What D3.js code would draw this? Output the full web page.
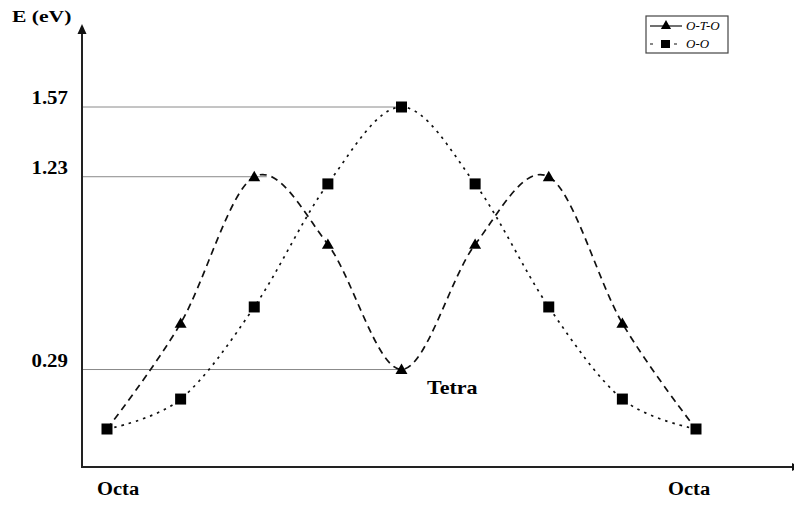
<!DOCTYPE html>
<html>
<head>
<meta charset="utf-8">
<script src="https://cdn.jsdelivr.net/npm/d3@7"></script>
<style>
  body { margin: 0; background: #fff; }
  svg text { font-family: "Liberation Serif", "Times New Roman", serif; }
</style>
</head>
<body>
<div id="chart"></div>
<script>
// Data (energy in eV along the path)
const steps = [0, 1, 2, 3, 4, 5, 6, 7, 8];
const otoValues = [0, 0.515, 1.23, 0.9, 0.29, 0.9, 1.23, 0.515, 0];
const ooValues = [0, 0.146, 0.595, 1.195, 1.57, 1.195, 0.595, 0.146, 0];
const tickValues = [1.57, 1.23, 0.29];
const tickLabels = ["1.57", "1.23", "0.29"];
const guideEnds = [4, 2.17, 4]; // where each level line stops, in steps
const seriesNames = ["O-T-O", "O-O"];

const width = 794;
const height = 505;

const svg = d3.select("#chart")
    .append("svg")
    .attr("width", width)
    .attr("height", height);

// Scales
const x = d3.scaleLinear().domain([0, 8]).range([107, 696]);
const y = d3.scaleLinear().domain([0, 1.57]).range([429, 107]);

const axisX = 82;
const axisY = 467;

// the original text looks stretched sideways
function wideText(g, tx, ty, sx) {
    return g.append("text")
        .attr("transform", `translate(${tx}, ${ty}) scale(${sx}, 1)`);
}

// Level lines to the labelled energies
svg.selectAll(".guide")
    .data(tickValues)
    .enter()
    .append("line")
    .attr("x1", axisX)
    .attr("x2", (d, i) => x(guideEnds[i]))
    .attr("y1", d => y(d))
    .attr("y2", d => y(d))
    .attr("stroke", "#8a8a8a")
    .attr("stroke-width", 1);

tickValues.forEach((v, i) => {
    wideText(svg, 68, y(v) - 3, 1.16)
        .attr("text-anchor", "end")
        .style("font-size", "18px")
        .style("font-weight", "bold")
        .text(tickLabels[i]);
});

// Axes
svg.append("line")
    .attr("x1", axisX).attr("x2", axisX)
    .attr("y1", axisY).attr("y2", 32)
    .attr("stroke", "#222").attr("stroke-width", 2);
svg.append("path")
    .attr("d", `M${axisX},24 L${axisX - 4.5},34 L${axisX + 4.5},34 Z`)
    .attr("fill", "#111");

svg.append("line")
    .attr("x1", axisX - 1).attr("x2", 792)
    .attr("y1", axisY).attr("y2", axisY)
    .attr("stroke", "#222").attr("stroke-width", 2);
svg.append("path")
    .attr("d", `M${800},${axisY} L${792},${axisY - 4} L${792},${axisY + 4} Z`)
    .attr("fill", "#111");

// Curves
const line = d3.line()
    .x((d, i) => x(steps[i]))
    .y(d => y(d))
    .curve(d3.curveCardinal.tension(0));

svg.append("path")
    .datum(otoValues)
    .attr("d", line)
    .attr("fill", "none")
    .attr("stroke", "#111")
    .attr("stroke-width", 1.7)
    .attr("stroke-dasharray", "7,5");

svg.append("path")
    .datum(ooValues)
    .attr("d", line)
    .attr("fill", "none")
    .attr("stroke", "#111")
    .attr("stroke-width", 1.7)
    .attr("stroke-dasharray", "2.5,5");

// Markers
const tri = d3.symbol().type(d3.symbolTriangle).size(62);
svg.selectAll(".tri")
    .data(otoValues.slice(1, 8))
    .enter()
    .append("path")
    .attr("d", tri)
    .attr("transform", (d, i) => `translate(${x(steps[i + 1])}, ${y(d) + 1})`)
    .attr("fill", "#000");

svg.selectAll(".sq")
    .data(ooValues)
    .enter()
    .append("rect")
    .attr("x", (d, i) => x(steps[i]) - 5.5)
    .attr("y", d => y(d) - 5.5)
    .attr("width", 11)
    .attr("height", 11)
    .attr("fill", "#000");

// Labels
wideText(svg, 12, 22, 1.27)
    .style("font-size", "17px").style("font-weight", "bold")
    .text("E (eV)");

wideText(svg, 97, 495, 1.08)
    .style("font-size", "19px").style("font-weight", "bold")
    .text("Octa");

wideText(svg, 668, 495, 1.08)
    .style("font-size", "19px").style("font-weight", "bold")
    .text("Octa");

wideText(svg, 427, 394, 1.16)
    .style("font-size", "19px").style("font-weight", "bold")
    .text("Tetra");

// Legend
const legend = svg.append("g");
legend.append("rect")
    .attr("x", 646).attr("y", 16)
    .attr("width", 82).attr("height", 37)
    .attr("fill", "#fff")
    .attr("stroke", "#444")
    .attr("stroke-width", 1.2);

legend.append("line")
    .attr("x1", 650).attr("x2", 682)
    .attr("y1", 26).attr("y2", 26)
    .attr("stroke", "#111").attr("stroke-width", 1.2);
legend.append("path")
    .attr("d", d3.symbol().type(d3.symbolTriangle).size(45))
    .attr("transform", "translate(666, 26)")
    .attr("fill", "#000");

legend.append("line")
    .attr("x1", 650).attr("x2", 682)
    .attr("y1", 44).attr("y2", 44)
    .attr("stroke", "#111").attr("stroke-width", 1.2)
    .attr("stroke-dasharray", "3,9");
legend.append("rect")
    .attr("x", 661).attr("y", 40)
    .attr("width", 9).attr("height", 8)
    .attr("fill", "#000");

legend.selectAll(".legend-text")
    .data(seriesNames)
    .enter()
    .append("text")
    .attr("x", 686)
    .attr("y", (d, i) => 30 + i * 18)
    .style("font-size", "13px")
    .style("font-style", "italic")
    .text(d => d);
</script>
</body>
</html>
